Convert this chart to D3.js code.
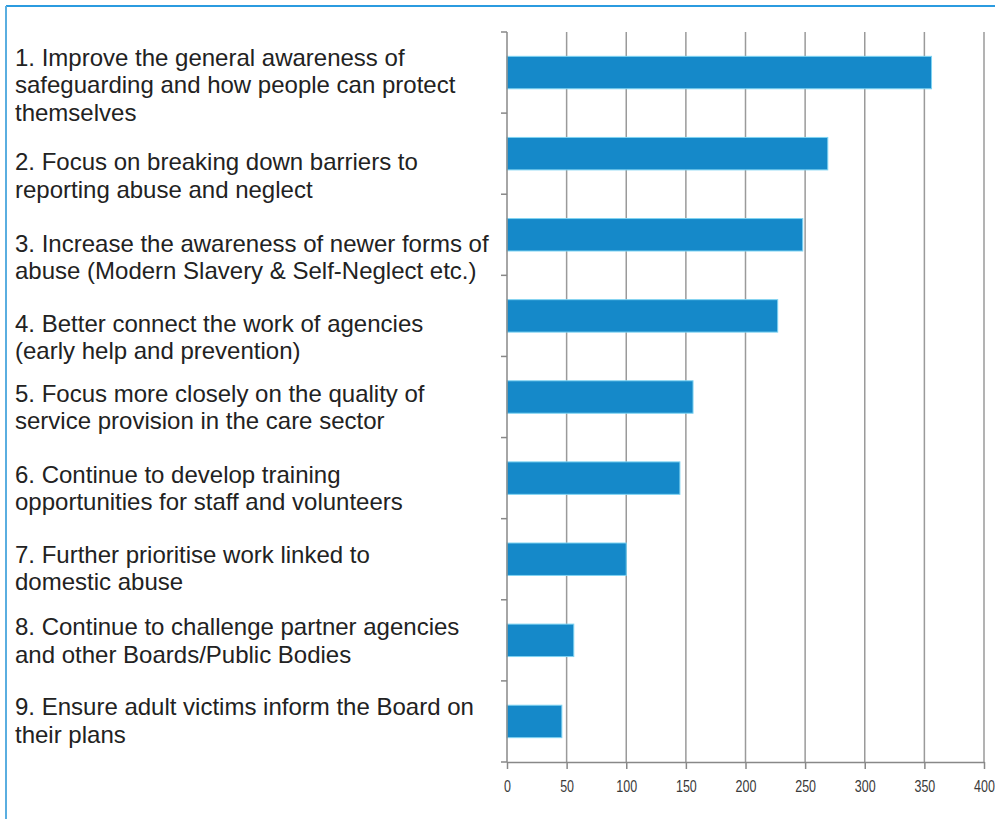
<!DOCTYPE html>
<html>
<head>
<meta charset="utf-8">
<script src="https://cdn.jsdelivr.net/npm/d3@7"></script>
<style>
  html, body { margin: 0; padding: 0; background: #fff; }
  #chart { width: 995px; height: 819px; }
</style>
</head>
<body>
<div id="chart"></div>
<script>
// Priorities (each label split into its printed lines)
const categories = [
  ['1. Improve the general awareness of', 'safeguarding and how people can protect', 'themselves'],
  ['2. Focus on breaking down barriers to', 'reporting abuse and neglect'],
  ['3. Increase the awareness of newer forms of', 'abuse (Modern Slavery & Self-Neglect etc.)'],
  ['4. Better connect the work of agencies', '(early help and prevention)'],
  ['5. Focus more closely on the quality of', 'service provision in the care sector'],
  ['6. Continue to develop training', 'opportunities for staff and volunteers'],
  ['7. Further prioritise work linked to', 'domestic abuse'],
  ['8. Continue to challenge partner agencies', 'and other Boards/Public Bodies'],
  ['9. Ensure adult victims inform the Board on', 'their plans']
];

const values = [356, 269, 248, 227, 156, 145, 100, 56, 46];

const xTicks = [0, 50, 100, 150, 200, 250, 300, 350, 400];

// small vertical nudges of the label blocks relative to their bar
const labelNudge = [12, 22, 22, 21, 10, 10, 9, 0, -1];

document.addEventListener('DOMContentLoaded', () => {
  const width = 995;
  const height = 819;
  const plot = { left: 507, right: 984, top: 32, bottom: 762 };
  const lineHeight = 27.5;

  const svg = d3.select('#chart')
    .append('svg')
    .attr('width', width)
    .attr('height', height);

  // Frame (blue rule top and left)
  svg.append('line')
    .attr('x1', 6).attr('y1', 6).attr('x2', width).attr('y2', 6)
    .attr('stroke', '#2b9be0').attr('stroke-width', 2);
  svg.append('line')
    .attr('x1', 6).attr('y1', 6).attr('x2', 6).attr('y2', height)
    .attr('stroke', '#5aaee0').attr('stroke-width', 2);

  const x = d3.scaleLinear()
    .domain([0, 400])
    .range([plot.left, plot.right]);

  const y = d3.scaleBand()
    .domain(d3.range(categories.length))
    .range([plot.top, plot.bottom])
    .paddingInner(0.6)
    .paddingOuter(0.3);

  // Vertical gridlines
  svg.append('g')
    .selectAll('line')
    .data(xTicks.slice(1))
    .enter()
    .append('line')
    .attr('x1', d => x(d))
    .attr('x2', d => x(d))
    .attr('y1', plot.top)
    .attr('y2', plot.bottom)
    .attr('stroke', '#9a9a9a')
    .attr('stroke-width', 1.5);

  // Bars
  svg.append('g')
    .selectAll('rect')
    .data(values)
    .enter()
    .append('rect')
    .attr('x', x(0))
    .attr('y', (d, i) => y(i))
    .attr('width', d => x(d) - x(0))
    .attr('height', y.bandwidth())
    .attr('fill', '#1589c9')
    .attr('stroke', '#7fd3f2')
    .attr('stroke-width', 1);

  // Left axis line with category boundary ticks
  const step = y.step();
  const boundaries = d3.range(categories.length + 1).map(i => plot.top + i * step);
  const leftAxis = svg.append('g');
  leftAxis.append('line')
    .attr('x1', x(0)).attr('x2', x(0))
    .attr('y1', plot.top).attr('y2', plot.bottom)
    .attr('stroke', '#888').attr('stroke-width', 1.5);
  leftAxis.selectAll('.tick')
    .data(boundaries)
    .enter()
    .append('line')
    .attr('x1', x(0) - 6).attr('x2', x(0))
    .attr('y1', d => d).attr('y2', d => d)
    .attr('stroke', '#888').attr('stroke-width', 1.5);

  // Bottom axis
  const xAxis = svg.append('g')
    .attr('transform', `translate(0,${plot.bottom})`)
    .call(d3.axisBottom(x).tickValues(xTicks).tickSize(7).tickPadding(12).tickSizeOuter(0));
  xAxis.select('.domain').attr('stroke', '#888').attr('stroke-width', 1.5);
  xAxis.selectAll('.tick line').attr('stroke', '#888').attr('stroke-width', 1.5);
  xAxis.selectAll('.tick text')
    .attr('fill', '#3a3a3a')
    .attr('transform', 'scale(0.78,1)')
    .style('font-family', '"Liberation Sans", Arial, sans-serif')
    .style('font-size', '16px');

  // Category labels on the left
  const labels = svg.append('g')
    .selectAll('text')
    .data(categories)
    .enter()
    .append('text')
    .attr('x', 15)
    .attr('y', (d, i) => {
      const center = y(i) + y.bandwidth() / 2 + labelNudge[i];
      return center - (d.length - 1) * lineHeight / 2 + 8.5;
    })
    .attr('fill', '#222')
    .style('font-family', '"Liberation Sans", Arial, sans-serif')
    .style('font-size', '24px');

  labels.each(function(d) {
    const t = d3.select(this);
    d.forEach((line, j) => {
      t.append('tspan')
        .attr('x', 15)
        .attr('dy', j === 0 ? 0 : lineHeight)
        .text(line);
    });
  });
});
</script>
</body>
</html>
